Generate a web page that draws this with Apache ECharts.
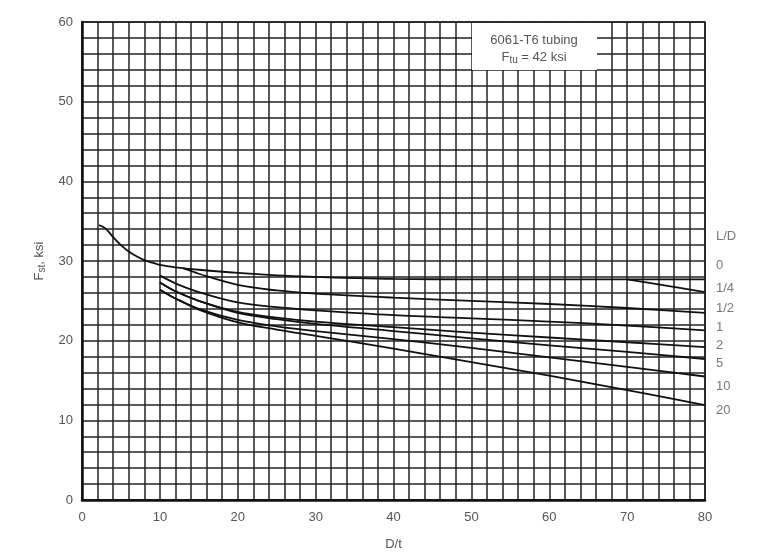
<!DOCTYPE html>
<html lang="en">
<head>
  <meta charset="UTF-8">
  <title>Fst vs D/t - 6061-T6 tubing</title>
  <script src="https://cdn.jsdelivr.net/npm/echarts@6/dist/echarts.min.js"></script>
</head>
<body style="margin:0;background:#fff">
<div id="chart" style="width:768px;height:555px"></div>

<script>
  // curve data: D/t on x, Fst (ksi) on y
  const dt0   = [2.2, 3, 4, 5, 6, 7, 8, 9, 10, 12, 15, 20, 25, 30, 35, 40, 50, 60, 70, 80];
  const fst0  = [34.5, 34.1, 33.0, 32.0, 31.2, 30.6, 30.1, 29.8, 29.5, 29.2, 28.9, 28.5, 28.2, 28.0, 27.85, 27.75, 27.7, 27.7, 27.7, 27.7];
  const dtQ   = [70, 75, 80];
  const fstQ  = [27.7, 26.9, 26.1];          // L/D = 1/4 (leaves the 0 curve)
  const dtH   = [13, 15, 20, 25, 30, 40, 50, 60, 70, 80];
  const fstH  = [29.1, 28.4, 27.0, 26.3, 25.9, 25.4, 25.0, 24.6, 24.1, 23.5];   // L/D = 1/2
  const dtS   = [10, 12, 15, 20, 25, 30, 40, 50, 60, 70, 80];
  const fst1  = [28.2, 27.2, 26.1, 24.8, 24.2, 23.8, 23.2, 22.8, 22.4, 21.9, 21.3];
  const fst2  = [27.3, 26.2, 25.0, 23.6, 22.9, 22.4, 21.7, 21.0, 20.4, 19.8, 19.2];
  const fst5  = [27.3, 26.2, 25.0, 23.5, 22.7, 22.1, 21.2, 20.3, 19.4, 18.6, 17.7];
  const fst10 = [26.4, 25.3, 24.0, 22.6, 21.8, 21.2, 20.2, 19.1, 17.9, 16.7, 15.5];
  const fst20 = [26.4, 25.3, 23.9, 22.3, 21.4, 20.6, 19.0, 17.3, 15.6, 13.8, 11.9];

  const curveLabels = ['L/D', '0', '1/4', '1/2', '1', '2', '5', '10', '20'];
  const labelFst    = [33.1, 29.4, 26.6, 24.1, 21.7, 19.4, 17.2, 14.2, 11.2];

  function pairs(xs, ys) {
    return xs.map(function (x, i) { return [x, ys[i]]; });
  }

  const lineStyle = { color: '#111', width: 1.8 };
  function curve(name, xs, ys) {
    return {
      name: name,
      type: 'line',
      data: pairs(xs, ys),
      showSymbol: false,
      smooth: 0.35,
      lineStyle: lineStyle,
      silent: true,
      z: 5
    };
  }

  const chart = echarts.init(document.getElementById('chart'));
  const font = 'Liberation Sans, Arial, sans-serif';
  const tickFont = { color: '#555', fontSize: 13, fontFamily: font };

  const option = {
    animation: false,
    grid: { left: 82, right: 63, top: 22, bottom: 55, outerBoundsMode: 'none',
            show: true, borderColor: '#111', borderWidth: 1.5 },
    xAxis: {
      type: 'value', min: 0, max: 80, interval: 2,
      name: 'D/t', nameLocation: 'middle', nameGap: 38,
      nameTextStyle: tickFont,
      axisLine: { lineStyle: { color: '#111', width: 2.5 } },
      axisTick: { show: false },
      axisLabel: Object.assign({ margin: 11, formatter: function (v) { return v % 10 === 0 ? String(v) : ''; } }, tickFont),
      splitLine: { lineStyle: { color: '#222', width: 1.5 } }
    },
    yAxis: {
      type: 'value', min: 0, max: 60, interval: 2,
      name: '{a|F}{b|st}{a|, ksi}', nameLocation: 'middle', nameGap: 35,
      nameTextStyle: {
        rich: {
          a: { color: '#555', fontSize: 13, fontFamily: font },
          b: { color: '#555', fontSize: 10, fontFamily: font, padding: [6, 0, 0, 0] }
        }
      },
      axisLine: { show: true, lineStyle: { color: '#111', width: 2.5 } },
      axisTick: { show: false },
      axisLabel: Object.assign({ margin: 9, formatter: function (v) { return v % 10 === 0 ? String(v) : ''; } }, tickFont),
      splitLine: { lineStyle: { color: '#222', width: 1.5 } }
    },
    graphic: [{
      type: 'group', left: 472, top: 23, z: 100,
      children: [
        { type: 'rect', z: 100, shape: { x: 0, y: 0, width: 125, height: 47 }, style: { fill: '#fff' } },
        { type: 'text', z: 101, x: 62, y: 17, style: { text: '6061-T6 tubing', fill: '#555', font: '13px ' + font, align: 'center', verticalAlign: 'middle' } },
        { type: 'text', z: 101, x: 62, y: 34, style: {
            text: '{a|F}{b|tu}{a| = 42 ksi}', align: 'center', verticalAlign: 'middle',
            rich: {
              a: { fill: '#555', fontSize: 13, fontFamily: font },
              b: { fill: '#555', fontSize: 10, fontFamily: font, padding: [6, 0, 0, 0] }
            } } }
      ]
    }],
    series: [
      curve('0', dt0, fst0),
      curve('1/4', dtQ, fstQ),
      curve('1/2', dtH, fstH),
      curve('1', dtS, fst1),
      curve('2', dtS, fst2),
      curve('5', dtS, fst5),
      curve('10', dtS, fst10),
      curve('20', dtS, fst20),
      {
        type: 'scatter',
        symbolSize: 0,
        silent: true,
        clip: false,
        data: labelFst.map(function (y, i) { return { value: [80, y], name: curveLabels[i] }; }),
        label: {
          show: true, position: 'right', distance: 11,
          formatter: '{b}', color: '#555', fontSize: 13, fontFamily: font
        }
      }
    ]
  };
  chart.setOption(option);
</script>
</body>
</html>
